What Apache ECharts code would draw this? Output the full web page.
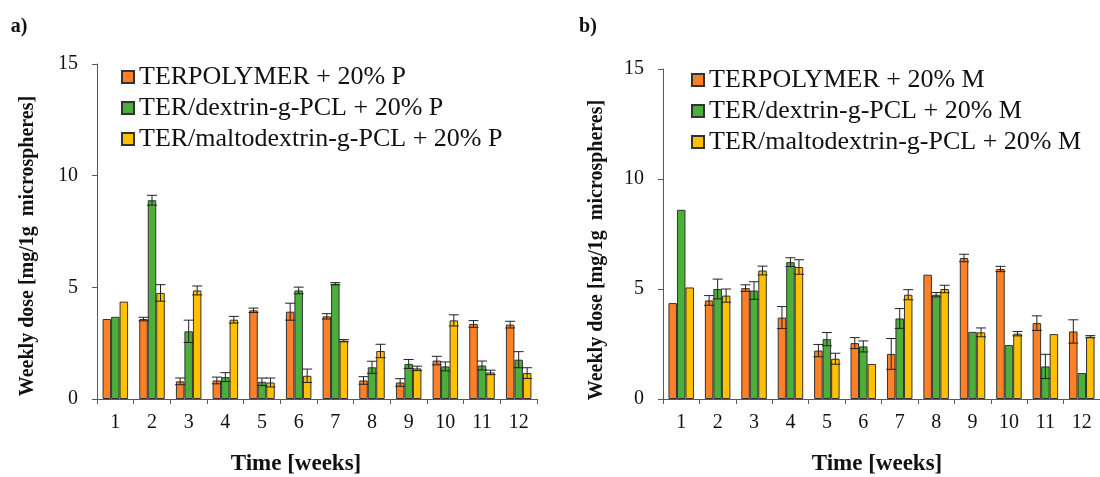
<!DOCTYPE html>
<html>
<head>
<meta charset="utf-8">
<script src="https://cdn.jsdelivr.net/npm/echarts@6/dist/echarts.min.js"></script>
<style>
  html, body { margin: 0; padding: 0; background: #fff; }
  #chart { width: 1100px; height: 477px; }
</style>
</head>
<body>
<div id="chart"></div>
<script>
// categories
var weeks = ['1', '2', '3', '4', '5', '6', '7', '8', '9', '10', '11', '12'];
var yTicks = [0, 5, 10, 15];

// panel a) - 20% P
var namesA = ['TERPOLYMER + 20% P', 'TER/dextrin-g-PCL + 20% P', 'TER/maltodextrin-g-PCL + 20% P'];
var aTer = [3.58, 3.58, 0.79, 0.83, 3.97, 3.91, 3.70, 0.83, 0.74, 1.72, 3.36, 3.33];
var aTerErr = [0, 0.08, 0.15, 0.15, 0.10, 0.38, 0.12, 0.17, 0.17, 0.19, 0.15, 0.15];
var aDex = [3.68, 8.90, 3.03, 0.98, 0.77, 4.86, 5.16, 1.42, 1.57, 1.46, 1.50, 1.76];
var aDexErr = [0, 0.22, 0.50, 0.20, 0.17, 0.15, 0.05, 0.27, 0.20, 0.20, 0.20, 0.36];
var aMal = [4.36, 4.75, 4.86, 3.55, 0.74, 1.04, 2.61, 2.15, 1.37, 3.52, 1.19, 1.16];
var aMalErr = [0, 0.37, 0.20, 0.15, 0.20, 0.30, 0.05, 0.30, 0.10, 0.25, 0.10, 0.24];

// panel b) - 20% M
var namesB = ['TERPOLYMER + 20% M', 'TER/dextrin-g-PCL + 20% M', 'TER/maltodextrin-g-PCL + 20% M'];
var bTer = [4.36, 4.48, 5.04, 3.70, 2.20, 2.54, 2.05, 5.65, 6.41, 5.91, 3.45, 3.07];
var bTerErr = [0, 0.22, 0.15, 0.50, 0.28, 0.25, 0.70, 0, 0.17, 0.12, 0.33, 0.53];
var bDex = [8.60, 5.00, 4.93, 6.22, 2.72, 2.39, 3.66, 4.74, 3.05, 2.45, 1.48, 1.18];
var bDexErr = [0, 0.45, 0.40, 0.20, 0.30, 0.25, 0.45, 0.10, 0, 0, 0.55, 0];
var bMal = [5.07, 4.70, 5.84, 6.00, 1.83, 1.59, 4.74, 5.00, 3.03, 2.97, 2.95, 2.83];
var bMalErr = [0, 0.30, 0.20, 0.33, 0.25, 0, 0.23, 0.17, 0.20, 0.10, 0, 0.05];

var colors = ['#FF8025', '#4BAF3A', '#FFC000'];
var FONT = '"Liberation Serif", "Times New Roman", serif';
var BAR_W = 8.5;

// bar series
function barSeries(name, data, idx, gridIdx) {
	return {
		name: name,
		type: 'bar',
		xAxisIndex: gridIdx,
		yAxisIndex: gridIdx,
		data: data,
		barWidth: BAR_W,
		barGap: '0%',
		itemStyle: { color: colors[idx], borderColor: '#333', borderWidth: 1 },
		emphasis: { disabled: true }
	};
}

// error bars drawn on top of each bar
function errSeries(vals, errs, idx, gridIdx) {
	var d = [];
	for (var i = 0; i < vals.length; i++) d.push([i, vals[i], errs[i]]);
	return {
		type: 'custom',
		xAxisIndex: gridIdx,
		yAxisIndex: gridIdx,
		data: d,
		z: 10,
		silent: true,
		renderItem: function(params, api) {
			var e = api.value(2);
			if (!e) return null;
			var v = api.value(1);
			var off = (idx - 1) * BAR_W;
			var hi = api.coord([api.value(0), v + e]);
			var lo = api.coord([api.value(0), v - e]);
			var x = hi[0] + off;
			var cap = 5;
			var st = { stroke: '#222', lineWidth: 1 };
			return {
				type: 'group',
				children: [
					{ type: 'line', shape: { x1: x, y1: hi[1], x2: x, y2: lo[1] }, style: st },
					{ type: 'line', shape: { x1: x - cap, y1: hi[1], x2: x + cap, y2: hi[1] }, style: st },
					{ type: 'line', shape: { x1: x - cap, y1: lo[1], x2: x + cap, y2: lo[1] }, style: st }
				]
			};
		}
	};
}

function xAxisCfg(gridIdx) {
	return {
		type: 'category',
		gridIndex: gridIdx,
		data: weeks,
		axisLine: { lineStyle: { color: '#595959', width: 1 } },
		axisTick: { show: true, length: 5, lineStyle: { color: '#595959' } },
		axisLabel: { color: '#111', fontFamily: FONT, fontSize: 20, margin: 14 }
	};
}

function yAxisCfg(gridIdx) {
	return {
		type: 'value',
		gridIndex: gridIdx,
		min: yTicks[0],
		max: yTicks[yTicks.length - 1],
		interval: 5,
		splitLine: { show: false },
		axisLine: { show: true, lineStyle: { color: '#595959', width: 1 } },
		axisTick: { show: true, length: 5, lineStyle: { color: '#595959' } },
		axisLabel: { color: '#111', fontFamily: FONT, fontSize: 20, margin: 19 }
	};
}

function legendCfg(names, left, top) {
	return {
		data: names,
		orient: 'vertical',
		left: left,
		top: top,
		itemWidth: 12,
		itemHeight: 12,
		itemGap: 5,
		icon: 'rect',
		selectedMode: false,
		textStyle: { fontFamily: FONT, fontSize: 26, color: '#111' }
	};
}

function txt(x, y, s, size, rot) {
	return {
		type: 'text',
		x: x,
		y: y,
		rotation: rot || 0,
		style: {
			text: s,
			font: 'bold ' + size + 'px ' + FONT,
			fill: '#111',
			textAlign: 'center',
			textVerticalAlign: 'middle'
		}
	};
}

var myChart = echarts.init(document.getElementById('chart'));
var option = {
	animation: false,
	backgroundColor: '#fff',
	grid: [
		{ left: 97, top: 64, width: 440, bottom: 78 },
		{ left: 663, top: 69, width: 441, bottom: 78 }
	],
	xAxis: [xAxisCfg(0), xAxisCfg(1)],
	yAxis: [yAxisCfg(0), yAxisCfg(1)],
	legend: [legendCfg(namesA, 116, 59), legendCfg(namesB, 686, 62)],
	graphic: [
		txt(19, 27, 'a)', 20),
		txt(588, 27, 'b)', 20),
		txt(28, 246, 'Weekly dose [mg/1g  microspheres]', 20, Math.PI / 2),
		txt(597, 250, 'Weekly dose [mg/1g  microspheres]', 20, Math.PI / 2),
		txt(296, 464, 'Time [weeks]', 23),
		txt(877, 464, 'Time [weeks]', 23)
	],
	series: [
		barSeries(namesA[0], aTer, 0, 0),
		barSeries(namesA[1], aDex, 1, 0),
		barSeries(namesA[2], aMal, 2, 0),
		barSeries(namesB[0], bTer, 0, 1),
		barSeries(namesB[1], bDex, 1, 1),
		barSeries(namesB[2], bMal, 2, 1),
		errSeries(aTer, aTerErr, 0, 0),
		errSeries(aDex, aDexErr, 1, 0),
		errSeries(aMal, aMalErr, 2, 0),
		errSeries(bTer, bTerErr, 0, 1),
		errSeries(bDex, bDexErr, 1, 1),
		errSeries(bMal, bMalErr, 2, 1)
	]
};
myChart.setOption(option);
</script>
</body>
</html>
